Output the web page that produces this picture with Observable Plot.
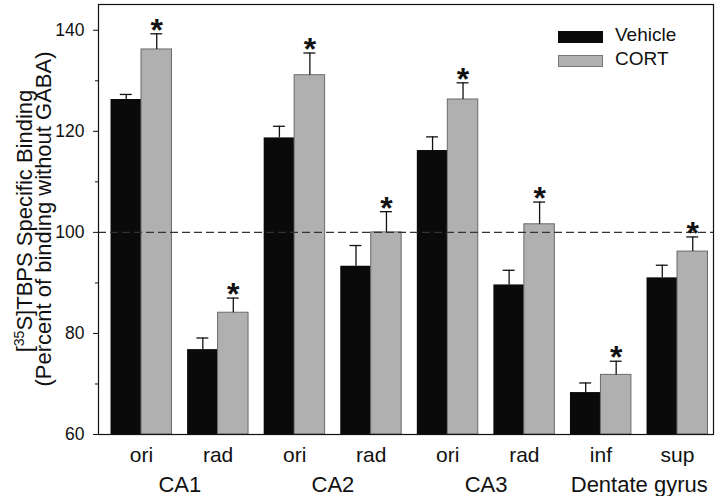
<!DOCTYPE html>
<html><head><meta charset="utf-8">
<script src="https://cdn.jsdelivr.net/npm/d3@7"></script>
<script src="https://cdn.jsdelivr.net/npm/@observablehq/plot@0.6"></script>
<style>
html,body{margin:0;padding:0;background:#fff;}
#chart{position:relative;width:720px;height:496px;font-family:"Liberation Sans",Arial,sans-serif;color:#111;}
.sw{position:absolute;width:45px;height:12px;box-sizing:border-box;}
.lt{position:absolute;font-size:19px;line-height:24px;white-space:nowrap;}
</style></head><body>
<div id="chart">
  <div class="sw" style="left:558px;top:31px;background:#0a0a0a;"></div>
  <div class="lt" style="left:615px;top:23.4px;">Vehicle</div>
  <div class="sw" style="left:558px;top:55px;background:#b0b0b0;border:1px solid #777;"></div>
  <div class="lt" style="left:615px;top:46.7px;">CORT</div>
</div>
<script>
// Data
const regions = ["ori", "rad", "ori", "rad", "ori", "rad", "inf", "sup"];
const groups = ["CA1", "CA2", "CA3", "Dentate gyrus"];
const vehicle = [126.3, 76.8, 118.7, 93.3, 116.2, 89.6, 68.3, 91.0];
const vehicleErr = [1.0, 2.3, 2.3, 4.1, 2.7, 2.9, 1.9, 2.5];
const cort = [136.2, 84.1, 131.1, 100.0, 126.3, 101.6, 71.8, 96.2];
const cortErr = [3.1, 2.9, 4.4, 4.1, 3.3, 4.4, 2.7, 2.9];
const significant = [true, true, true, true, true, true, true, true];
const yTicks = [60, 80, 100, 120, 140];
const yMinorTicks = [70, 90, 110, 130];
const reference = [100];

const half = 0.398, cap = 0.078;
const bars = regions.flatMap((r, i) => [
  {series: "Vehicle", i, x1: i - half, x2: i, cx: i - half / 2, value: vehicle[i], top: vehicle[i] + vehicleErr[i], sig: false},
  {series: "CORT", i, x1: i, x2: i + half, cx: i + half / 2, value: cort[i], top: cort[i] + cortErr[i], sig: significant[i]}
]);

const font = '"Liberation Sans", Arial, sans-serif';
const plot = Plot.plot({
  width: 720, height: 496,
  marginLeft: 98, marginRight: 7, marginTop: 4, marginBottom: 62,
  style: {fontFamily: font, background: "white", color: "#111", overflow: "visible"},
  x: {domain: [-0.5616, 7.470], axis: null},
  y: {domain: [60, 145.1], axis: null},
  marks: [
    Plot.rectY(bars.filter(d => d.series === "Vehicle"), {x1: "x1", x2: "x2", y1: 60, y2: "value", fill: "#0a0a0a"}),
    Plot.rectY(bars.filter(d => d.series === "CORT"), {x1: "x1", x2: "x2", y1: 60, y2: "value", fill: "#b0b0b0", stroke: "#6a6a6a", strokeWidth: 1}),
    Plot.ruleX(bars, {x: "cx", y1: "value", y2: "top", stroke: "#111", strokeWidth: 1.3}),
    Plot.ruleY(bars, {y: "top", x1: d => d.cx - cap, x2: d => d.cx + cap, stroke: "#111", strokeWidth: 1.3}),
    Plot.ruleY(reference, {stroke: "#333", strokeDasharray: "8,4", strokeWidth: 1.2}),
    Plot.text(bars.filter(d => d.sig), {x: "cx", y: "top", text: () => "*", fontSize: 32, fontWeight: "bold", lineAnchor: "bottom", dy: 7, fill: "#111"}),
    Plot.axisY({ticks: yTicks, tickSize: 5, tickPadding: 9, fontSize: 17.5, label: null}),
    Plot.axisY({ticks: yMinorTicks, tickSize: 3, tickFormat: () => "", label: null}),
    Plot.axisX({ticks: d3.range(regions.length), tickFormat: i => regions[i], tickSize: 0, tickPadding: 13, fontSize: 21, label: null}),
    Plot.axisX({ticks: [0.5, 2.5, 4.5, 6.5], tickFormat: d => groups[Math.floor(d / 2)], tickSize: 0, tickPadding: 42, fontSize: 22, label: null}),
    Plot.frame({stroke: "#111", strokeWidth: 1.2})
  ]
});

const svg = d3.select(plot);
const l1 = svg.append("text")
  .attr("transform", "translate(32,221) rotate(-90)")
  .attr("text-anchor", "middle").attr("font-size", 22).attr("fill", "#111").attr("font-family", font);
l1.append("tspan").text("[");
l1.append("tspan").attr("font-size", 14).attr("dy", -8).text("35");
l1.append("tspan").attr("dy", 8).text("S]TBPS Specific Binding");
svg.append("text")
  .attr("transform", "translate(51,219) rotate(-90)")
  .attr("text-anchor", "middle").attr("font-size", 22).attr("fill", "#111").attr("font-family", font)
  .text("(Percent of binding without GABA)");

document.getElementById("chart").prepend(plot);
</script>
</body></html>
